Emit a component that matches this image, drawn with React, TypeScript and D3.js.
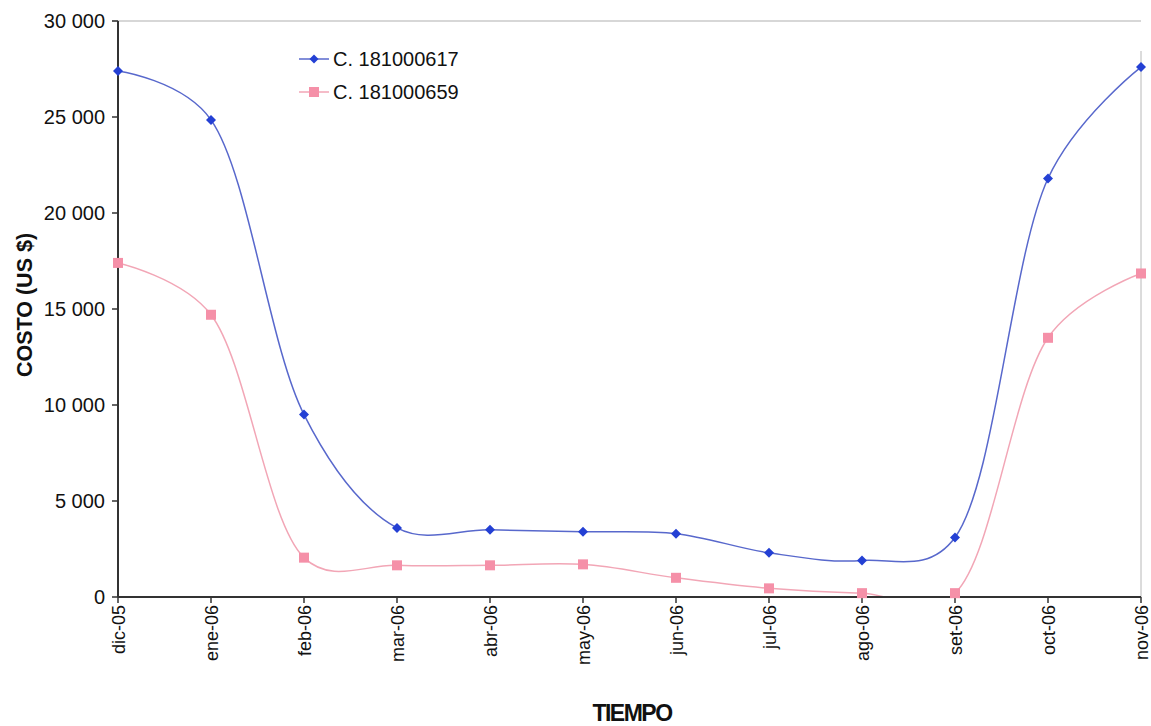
import React from "react";
import * as d3 from "d3";

const categories = ["dic-05", "ene-06", "feb-06", "mar-06", "abr-06", "may-06", "jun-06", "jul-06", "ago-06", "set-06", "oct-06", "nov-06"];
const seriesA = [27400, 24850, 9500, 3600, 3500, 3400, 3300, 2300, 1900, 3100, 21800, 27600];
const seriesB = [17400, 14700, 2050, 1650, 1650, 1700, 1000, 450, 200, 200, 13500, 16850];
const yTicks = [0, 5000, 10000, 15000, 20000, 25000, 30000];
const seriesNames = ["C. 181000617", "C. 181000659"];

const W = 1151, H = 726;
const left = 118, right = 1141, top = 21, bottom = 597;

export default function App() {
  const x = d3.scalePoint<string>().domain(categories).range([left, right]);
  const y = d3.scaleLinear().domain([0, 30000]).range([bottom, top]);
  const line = d3.line<number>()
    .x((_, i) => x(categories[i])!)
    .y((d) => y(d))
    .curve(d3.curveCatmullRom.alpha(0.3));
  const fmt = (v: number) => (v >= 1000 ? `${Math.floor(v / 1000)} ${String(v % 1000).padStart(3, "0")}` : String(v));
  const font = "'Liberation Sans', Arial, sans-serif";
  const blueLine = "#5868cc", blueMark = "#2440d4";
  const pinkLine = "#f2a6b6", pinkMark = "#f590a8";

  const diamond = (cx: number, cy: number, r: number) => `M${cx},${cy - r}L${cx + r},${cy}L${cx},${cy + r}L${cx - r},${cy}Z`;

  return (
    <svg width={W} height={H} style={{ position: "absolute", left: 0, top: 0, background: "#fff" }} fontFamily={font}>
      <defs>
        <clipPath id="plotClip">
          <rect x={left - 8} y={top} width={right - left + 16} height={bottom - top} />
        </clipPath>
      </defs>
      {/* frame */}
      <line x1={112} x2={right} y1={top} y2={top} stroke="#b0b0b0" strokeWidth={1.2} />
      <line x1={right} x2={right} y1={top + 30} y2={bottom} stroke="#b8b8b8" strokeWidth={1} />
      {/* series lines */}
      <g clipPath="url(#plotClip)">
        <path d={line(seriesB)!} fill="none" stroke={pinkLine} strokeWidth={1.5} />
        <path d={line(seriesA)!} fill="none" stroke={blueLine} strokeWidth={1.5} />
      </g>
      {/* y axis */}
      <line x1={left} x2={left} y1={top} y2={bottom} stroke="#333" strokeWidth={2} />
      {yTicks.map((t) => (
        <g key={t}>
          <line x1={112} x2={left} y1={y(t)} y2={y(t)} stroke="#333" strokeWidth={1.5} />
          <text x={105} y={y(t)} dy="0.35em" textAnchor="end" fontSize={20} fill="#111">{fmt(t)}</text>
        </g>
      ))}
      {/* x axis */}
      <line x1={left} x2={right} y1={bottom} y2={bottom} stroke="#333" strokeWidth={2} />
      {categories.map((c) => (
        <g key={c}>
          <line x1={x(c)!} x2={x(c)!} y1={bottom} y2={bottom + 6} stroke="#333" strokeWidth={1.5} />
          <text transform={`translate(${x(c)! + 6.5},${bottom + 8}) rotate(-90)`} textAnchor="end" fontSize={18} fill="#111">{c}</text>
        </g>
      ))}
      {/* titles */}
      <text transform={`translate(32,305) rotate(-90)`} textAnchor="middle" fontSize={21.5} fontWeight="bold" fill="#111">COSTO (US $)</text>
      <text x={632} y={721} textAnchor="middle" fontSize={23} fontWeight="bold" fill="#111" letterSpacing={-1.5}>TIEMPO</text>
      {/* markers */}
      {seriesB.map((v, i) => (
        <rect key={i} x={x(categories[i])! - 5} y={y(v) - 5} width={10} height={10} fill={pinkMark} />
      ))}
      {seriesA.map((v, i) => (
        <path key={i} d={diamond(x(categories[i])!, y(v), 5)} fill={blueMark} />
      ))}
      {/* legend */}
      <line x1={299} x2={329} y1={59} y2={59} stroke={blueLine} strokeWidth={1.5} />
      <path d={diamond(314, 59, 4.5)} fill={blueMark} />
      <text x={333} y={66} fontSize={20} fill="#111">{seriesNames[0]}</text>
      <line x1={299} x2={329} y1={92} y2={92} stroke={pinkLine} strokeWidth={1.5} />
      <rect x={309} y={87} width={10} height={10} fill={pinkMark} />
      <text x={333} y={99} fontSize={20} fill="#111">{seriesNames[1]}</text>
    </svg>
  );
}
